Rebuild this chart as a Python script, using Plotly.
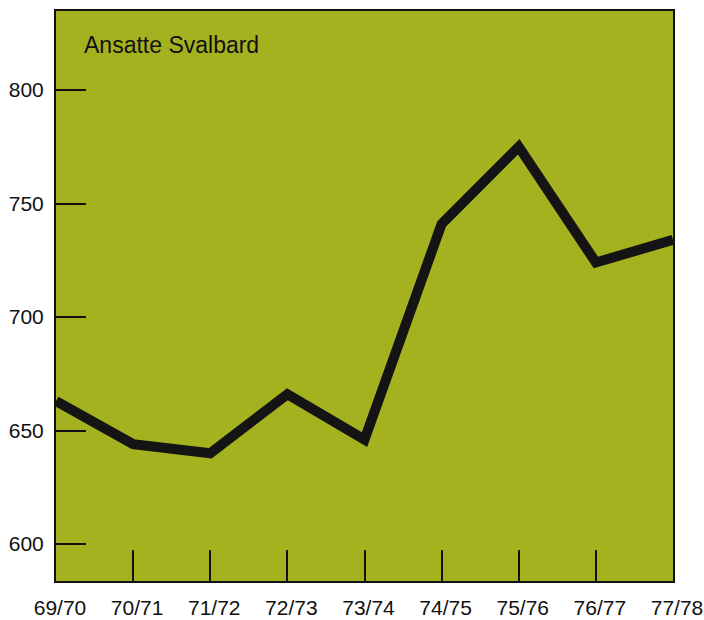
import plotly.graph_objects as go

seasons = ["69/70", "70/71", "71/72", "72/73", "73/74", "74/75", "75/76", "76/77", "77/78"]
employees = [663, 644, 640, 666, 646, 741, 775, 724, 734]
y_ticks = [600, 650, 700, 750, 800]
title_text = "Ansatte Svalbard"

xpos = list(range(len(seasons)))

fig = go.Figure()
fig.add_trace(go.Scatter(
    x=xpos, y=employees, mode="lines",
    line=dict(color="#141414", width=10),
    hoverinfo="skip", showlegend=False,
))

fig.update_layout(
    width=704, height=620,
    margin=dict(l=56, r=31, t=11, b=39),
    paper_bgcolor="white",
    plot_bgcolor="#a5b220",
    font=dict(family="Liberation Sans, Arial, sans-serif", size=21, color="#111"),
    showlegend=False,
)
fig.update_xaxes(
    range=[0, len(seasons) - 1],
    tickmode="array", tickvals=xpos, ticktext=seasons,
    ticks="inside", ticklen=31, tickwidth=2, tickcolor="#111",
    showgrid=False, zeroline=False, automargin=False,
    showline=True, linecolor="#111", linewidth=2, mirror=True,
    ticklabelstandoff=7, ticklabelshift=4, ticklabeloverflow="allow",
    tickfont=dict(size=21),
)
fig.update_yaxes(
    range=[583.7, 834.8],
    tickmode="array", tickvals=y_ticks,
    ticks="inside", ticklen=30, tickwidth=2, tickcolor="#111",
    showgrid=False, zeroline=False, automargin=False,
    showline=True, linecolor="#111", linewidth=2, mirror=True,
    ticklabelstandoff=6,
    tickfont=dict(size=21),
)
fig.add_annotation(
    text=title_text, xref="paper", yref="paper",
    x=(82 - 56) / 617, y=1 - (45 - 11) / 570,
    xanchor="left", yanchor="middle", showarrow=False,
    font=dict(size=23, color="#111"),
)
fig.write_html(
    "out.html",
    config={"displayModeBar": False, "staticPlot": True},
    post_script="document.body.style.margin='0';document.body.style.overflow='hidden';",
)
